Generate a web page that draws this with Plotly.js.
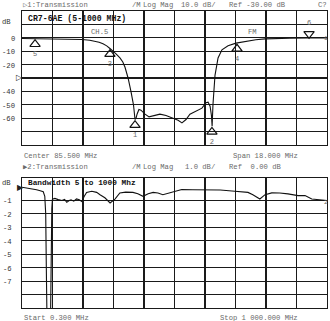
<!DOCTYPE html>
<html><head><meta charset="utf-8">
<script src="https://cdn.plot.ly/plotly-3.0.1.min.js"></script>
<style>html,body{margin:0;padding:0;background:#fff;}#c{width:330px;height:321px;}</style>
</head><body><div id="c"></div>
<script>
// ---- Trace 1: CR7-6AE transmission, 76.5–94.5 MHz (Log Mag, dB)
const freq1 = [76.5,77.3,78.27,79.2,80.04,80.5,80.81,81.05,81.28,81.5,81.69,81.9,82.05,82.28,82.45,82.58,82.76,82.93,83.08,83.17,83.23,83.29,83.4,83.52,83.76,84.0,84.29,84.64,85.0,85.35,85.71,85.94,86.18,86.41,86.77,87.12,87.36,87.48,87.6,87.68,87.72,87.77,87.89,88.07,88.3,88.66,89.13,89.72,90.3,90.84,91.5,92.31,93.4,94.5];
const db1   = [-0.5,-0.6,-0.7,-0.9,-1.3,-1.8,-2.5,-3.3,-4.5,-6,-8,-10,-12,-15,-18,-22,-30,-40,-50,-61,-60,-57,-53.5,-54,-57,-59,-58,-57,-58,-59.5,-61.5,-63.5,-61,-57,-55,-52.5,-48.5,-48,-51,-58,-66,-50,-28,-15,-9,-6,-4,-2.5,-1.5,-0.8,-0.5,-0.3,-0.2,-0.2];
// markers on trace 1
const mk1Freq  = [83.17, 87.71, 81.69, 89.19, 77.27, 93.44];
const mk1Val   = [-61, -66, -8, -4, -0.6, -0.3];
const mk1Label = ['1','2','3','4','5','6'];
const mk1Up    = [true, true, true, true, true, false];
const yTicks1 = [20,10,0,-10,-20,-30,-40,-50,-60,-70,-80];
const yText1  = ['','dB','0','-10','-20','','-40','-50','-60','',''];

// ---- Trace 2: Bandwidth 5 to 1000 MHz, 0.3–1000 MHz (Log Mag, dB)
const freq2 = [0.3,10,30,48,60,70,75,78,80,81,84,88,92,94,96,98,100,108,119,131,140,147,155,161,170,179,188,196,204,212,229,245,256,272,289,305,321,340,364,380,397,414,430,446,462,491,510,524,560,600,650,698,741,757,780,797,819,845,872,905,928,950,983,1000];
const db2   = [-0.02,-0.05,-0.15,-0.2,-0.28,-0.35,-0.7,-2,-6,-9.5,-14,-20,-14,-9.5,-4,-1.6,-0.9,-0.85,-0.94,-1.0,-0.92,-1.14,-1.0,-0.95,-1.05,-0.89,-0.95,-1.07,-0.7,-0.4,-0.32,-0.4,-0.57,-0.8,-1.19,-0.9,-0.44,-0.38,-0.4,-0.5,-0.69,-0.5,-0.4,-0.45,-0.57,-0.4,-0.3,-0.19,-0.2,-0.19,-0.22,-0.32,-0.4,-0.57,-0.89,-0.57,-0.44,-0.45,-0.51,-0.64,-0.64,-0.89,-0.99,-1.0];
const yTicks2 = [-1,-2,-3,-4,-5,-6,-7,-8];
const yText2  = ['-1','-2','-3','-4','-5','-6','-7',''];

// ---- layout helpers (pixel -> paper)
const L=22, R=3, T=11, B=13, W=330, H=321;
const pw = W-L-R, ph = H-T-B;
const px = p => (p-L)/pw;
const py = p => (H-B-p)/ph;
const MONO = 'Liberation Mono, DejaVu Sans Mono, monospace';
const GRAY = '#6a6a6a';

const data = [
  {x:freq1, y:db1, xaxis:'x', yaxis:'y', mode:'lines', line:{color:'#111', width:1.1}, hoverinfo:'skip'},
  {x:mk1Freq.filter((_,i)=>mk1Up[i]), y:mk1Val.filter((_,i)=>mk1Up[i]).map(v=>v-4.2),
   text:mk1Label.filter((_,i)=>mk1Up[i]), xaxis:'x', yaxis:'y', mode:'markers+text',
   marker:{symbol:'triangle-up-open', size:9, color:'#111', line:{width:1.2}},
   textposition:'bottom center', textfont:{family:MONO, size:7, color:GRAY}, cliponaxis:false},
  {x:mk1Freq.filter((_,i)=>!mk1Up[i]), y:mk1Val.filter((_,i)=>!mk1Up[i]).map(v=>v+3.3),
   text:mk1Label.filter((_,i)=>!mk1Up[i]), xaxis:'x', yaxis:'y', mode:'markers+text',
   marker:{symbol:'triangle-down-open', size:9, color:'#111', line:{width:1.2}},
   textposition:'top center', textfont:{family:MONO, size:7, color:GRAY}, cliponaxis:false},
  {x:freq2, y:db2, xaxis:'x2', yaxis:'y2', mode:'lines', line:{color:'#111', width:1.1}, hoverinfo:'skip'}
];

const axBase = {showgrid:true, gridcolor:'#1a1a1a', gridwidth:1.2, zeroline:false, showline:true,
  linecolor:'#1a1a1a', linewidth:1.2, mirror:true, ticks:'', showticklabels:false, fixedrange:true};

const ann = [];
function txt(t, xp, yp, opts){ ann.push(Object.assign({text:t, xref:'paper', yref:'paper', x:px(xp), y:py(yp),
  xanchor:'left', yanchor:'middle', showarrow:false, font:{family:MONO, size:7.2, color:GRAY}}, opts||{})); }

// headers
txt('▷1:Transmission', 21, 5);
txt('/M', 130, 5); txt('Log Mag', 141, 5);
txt('10.0 dB/', 179, 5); txt('Ref -30.00 dB', 227, 5); txt('C?', 316, 5);
txt('<b>CR7-6AE (5-1000 MHz)</b>', 26, 18, {font:{family:MONO, size:8.2, color:'#111'}});
txt('CH.5', 89, 32); txt('FM', 246, 32);
txt('1', 329.5, 38, {xanchor:'right', borderpad:0, font:{family:MONO, size:6, color:GRAY}});
txt('Center 85.500 MHz', 22, 156); txt('Span 18.000 MHz', 231, 156);
txt('▶2:Transmission', 21, 167);
txt('/M', 130, 167); txt('Log Mag', 141, 167);
txt('1.0 dB/', 183, 167); txt('Ref  0.00 dB', 227, 167);
txt('<b>Bandwidth 5 to 1000 Mhz</b>', 26, 183, {font:{family:MONO, size:7.8, color:'#111'}});
txt('2', 329.5, 202, {xanchor:'right', borderpad:0, font:{family:MONO, size:6, color:GRAY}});
txt('Start 0.300 MHz', 22, 318); txt('Stop 1 000.000 MHz', 218, 318);
txt('dB', 0, 183, {font:{family:MONO, size:7.2, color:'#333'}});
// reference arrows
txt('▷', 14, 78, {font:{family:'DejaVu Sans', size:8, color:'#222'}});
txt('▶', 15, 187, {font:{family:'DejaVu Sans', size:8, color:'#222'}});

// y tick labels (from arrays)
yTicks1.forEach((v,i)=>{ if(yText1[i]) ann.push({text:yText1[i], xref:'paper', yref:'y', x: yText1[i]==='dB'? px(0):px(17), y:v,
  xanchor: yText1[i]==='dB'?'left':'right', yanchor:'middle', yshift: yText1[i]==='dB'?2:-1, showarrow:false, font:{family:MONO, size:7.2, color:'#333'}}); });
yTicks2.forEach((v,i)=>{ if(yText2[i]) ann.push({text:yText2[i], xref:'paper', yref:'y2', x:px(14), y:v,
  xanchor:'right', yanchor:'middle', yshift:-1, showarrow:false, font:{family:MONO, size:7.2, color:'#333'}}); });

const layout = {
  width:W, height:H, margin:{l:L, r:R, t:T, b:B}, paper_bgcolor:'#fff', plot_bgcolor:'#fff', showlegend:false,
  xaxis: Object.assign({}, axBase, {range:[76.5,94.5], tick0:76.5, dtick:1.8, anchor:'y', domain:[0,1]}),
  yaxis: Object.assign({}, axBase, {range:[-80,20], tick0:0, dtick:10, anchor:'x', domain:[py(145),1]}),
  xaxis2: Object.assign({}, axBase, {range:[0.3,1000], tick0:0.3, dtick:99.97, anchor:'y2', domain:[0,1]}),
  yaxis2: Object.assign({}, axBase, {range:[-9,0.67], tickmode:'array', tickvals:yTicks2, anchor:'x2', domain:[0,py(178)]}),
  annotations: ann
};
Plotly.newPlot('c', data, layout, {staticPlot:true, displayModeBar:false});
</script></body></html>
